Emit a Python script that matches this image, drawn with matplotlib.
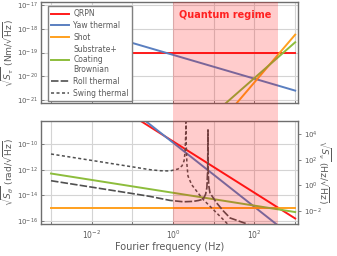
import numpy as np
import matplotlib.pyplot as plt
from matplotlib.patches import Rectangle
from matplotlib.ticker import FixedLocator, NullLocator

# power-law curves: values at the two ends of the band (1 mHz .. 1 kHz)
freq_ends = [1e-3, 1e3]
torque_qrpn = [1e-19, 1e-19]
torque_yaw = [10**-17.6, 10**-20.6]
torque_shot = [10**-30.25, 10**-18.25]
torque_brown = [10**-27.57, 10**-18.57]

angle_qrpn = [10**-3.8, 10**-15.8]
angle_yaw = [10**-2.4, 10**-17.4]
angle_shot = [1e-15, 1e-15]
angle_brown = [10**-12.3, 10**-15.3]

swing_logf = [-3.0, -2.0, -1.0, -0.57, -0.32, -0.08, 0.12, 0.22, 0.27, 0.295, 0.312,
              0.3165, 0.3175, 0.322, 0.34, 0.366, 0.457, 0.58, 0.742, 0.948, 1.152, 1.275, 1.45]
swing_logt = [-10.78, -11.28, -11.78, -12.0, -12.08, -12.1, -11.95, -11.7, -11.3, -10.6, -9.0,
              -7.0, -7.0, -10.0, -11.6, -12.5, -13.17, -13.68, -14.33, -14.98, -15.63, -16.02, -16.6]
roll_logf = [-3.0, -2.0, -1.0, -0.57, -0.08, 0.25, 0.49, 0.62, 0.74, 0.8, 0.83, 0.85, 0.8565,
             0.8575, 0.862, 0.875, 0.906, 1.07, 1.233, 1.4, 1.82, 1.9]
roll_logt = [-12.86, -13.36, -13.86, -14.08, -14.39, -14.5, -14.47, -14.4, -14.3, -13.9, -13.4, -12.0, -8.9,
             -8.9, -12.0, -13.2, -13.81, -14.59, -15.21, -15.76, -16.23, -16.4]

quantum_band = [1.0, 380.0]

c_red = '#ff1a1a'
c_blue = '#5a7fc0'
c_orange = '#ffa01e'
c_green = '#8dbd3c'
c_gray = '#505050'
frame = '#6e6e6e'
txt = '#5a5a5a'
grid_c = '#d4d4d4'

W, H = 337, 256
fig = plt.figure(figsize=(W / 100, H / 100), dpi=100)
ax1 = fig.add_axes([41 / W, 1 - 103 / H, 257 / W, 101 / H])
ax2 = fig.add_axes([41 / W, 1 - 224 / H, 257 / W, 103 / H])
ax3 = ax2.twinx()

xlim = (10**-3.246, 10**3.069)
lw = 1.4

ax1.plot(freq_ends, torque_qrpn, color=c_red, lw=lw, label='QRPN')
ax1.plot(freq_ends, torque_yaw, color=c_blue, lw=lw, label='Yaw thermal')
ax1.plot(freq_ends, torque_shot, color=c_orange, lw=lw, label='Shot')
ax1.plot(freq_ends, torque_brown, color=c_green, lw=lw, label='Substrate+\nCoating\nBrownian')
ax1.plot([], [], color=c_gray, lw=1.2, ls=(0, (4.5, 1.3)), label='Roll thermal')
ax1.plot([], [], color=c_gray, lw=1.1, ls=(0, (2.0, 1.6)), label='Swing thermal')

ax2.plot(freq_ends, angle_qrpn, color=c_red, lw=lw)
ax2.plot(freq_ends, angle_yaw, color=c_blue, lw=lw)
ax2.plot(freq_ends, angle_shot, color=c_orange, lw=lw)
ax2.plot(freq_ends, angle_brown, color=c_green, lw=lw)
ax2.plot(10**np.array(roll_logf), 10**np.array(roll_logt), color=c_gray, lw=1.2, ls=(0, (4.5, 1.3)))
ax2.plot(10**np.array(swing_logf), 10**np.array(swing_logt), color=c_gray, lw=1.1, ls=(0, (2.0, 1.6)))

for ax in (ax1, ax2):
    ax.set_xscale('log')
    ax.set_yscale('log')
    ax.set_xlim(*xlim)
    ax.set_facecolor('none')
    ax.xaxis.set_major_locator(FixedLocator([10.0**k for k in range(-3, 4)]))
    ax.xaxis.set_minor_locator(NullLocator())
    ax.yaxis.set_minor_locator(NullLocator())
    ax.grid(True, color=grid_c, lw=0.8)
    ax.set_axisbelow(True)
    for s in ax.spines.values():
        s.set_color(frame)
        s.set_linewidth(1.0)
    ax.tick_params(direction='in', length=2, width=0.6, colors=frame,
                   labelcolor=txt, labelsize=5, pad=2)

ax1.set_ylim(10**-21.12, 10**-16.88)
ax1.set_yticks([10.0**k for k in range(-21, -16)])
ax1.yaxis.set_minor_locator(NullLocator())
ax1.set_xticklabels([])

ax2.set_ylim(10**-16.23, 10**-8.21)
ax2.set_yticks([1e-16, 1e-14, 1e-12, 1e-10])
ax2.yaxis.set_minor_locator(NullLocator())
ax2.set_xticklabels(['', r'$10^{-2}$', '', r'$10^{0}$', '', r'$10^{2}$', ''])
ax2.tick_params(axis='x', labelsize=5.5, pad=3)
ax2.set_xlabel('Fourier frequency (Hz)', fontsize=7, color=txt, labelpad=1)

ax3.set_yscale('log')
ax3.set_ylim(1e-3, 1e5)
ax3.set_yticks([1e-2, 1, 1e2, 1e4])
ax3.yaxis.set_minor_locator(NullLocator())
ax3.tick_params(direction='out', length=2, width=0.6, colors=frame,
                labelcolor=txt, labelsize=5, pad=2)
for s in ax3.spines.values():
    s.set_visible(False)

ax1.set_ylabel(r'$\sqrt{S_{\tau}}$ (Nm/$\sqrt{\mathrm{Hz}}$)', fontsize=6.6, color=txt, labelpad=1)
ax2.set_ylabel(r'$\sqrt{S_{\theta}}$ (rad/$\sqrt{\mathrm{Hz}}$)', fontsize=6.6, color=txt, labelpad=1)
ax3.set_ylabel(r'$\sqrt{S_{\nu}}$ (Hz/$\sqrt{\mathrm{Hz}}$)', fontsize=6.6, color=txt,
               rotation=270, labelpad=8)

leg = ax1.legend(loc='upper left', bbox_to_anchor=(0.012, 1.0), fontsize=5.5,
                 handlelength=2.3, handletextpad=0.6, labelspacing=0.38,
                 borderpad=0.45, fancybox=False, framealpha=1)
leg.get_frame().set_edgecolor('#808080')
leg.get_frame().set_linewidth(1.0)
for t in leg.get_texts():
    t.set_color(txt)
    t.set_linespacing(1.15)

# shaded band across both panels and the gap between them
to_fig = fig.transFigure.inverted()
x0 = to_fig.transform(ax2.transData.transform((quantum_band[0], 1e-12)))[0]
x1 = to_fig.transform(ax2.transData.transform((quantum_band[1], 1e-12)))[0]
y0 = ax2.get_position().y0
y1 = ax1.get_position().y1
fig.patches.append(Rectangle((x0, y0), x1 - x0, y1 - y0, transform=fig.transFigure,
                             facecolor='#ff0000', alpha=0.2, edgecolor='none', zorder=1))
fig.text((x0 + x1) / 2, 1 - 15 / H, 'Quantum regime', color='#ff2020', fontsize=7,
         fontweight='bold', ha='center', va='center', zorder=3)

fig.savefig('out.png', dpi=100)
